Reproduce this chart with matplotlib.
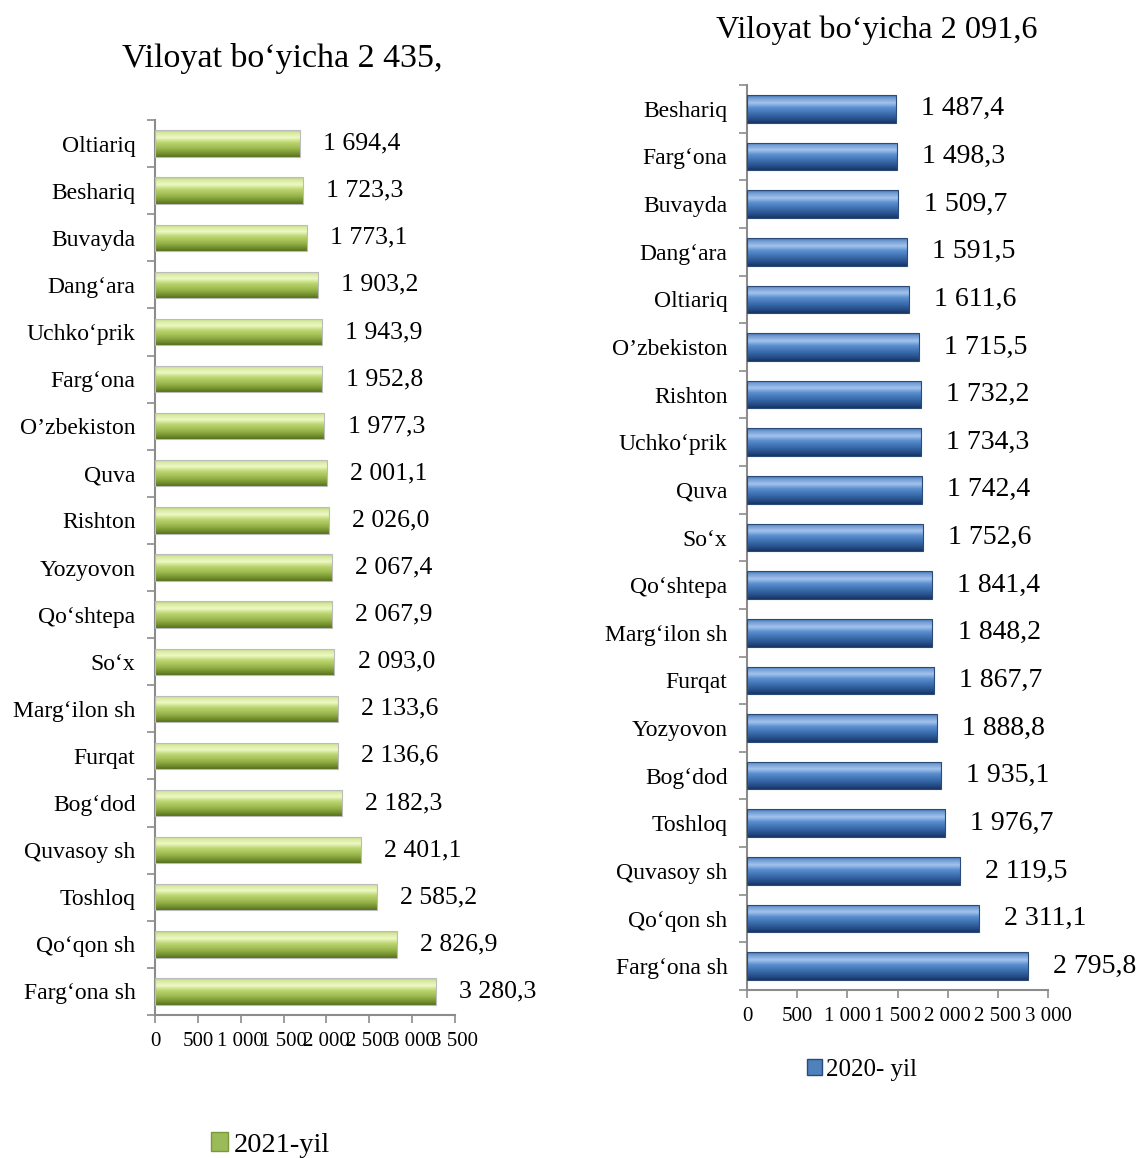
import numpy as np
import matplotlib
matplotlib.use("Agg")
import matplotlib.pyplot as plt
from matplotlib.colors import LinearSegmentedColormap
from matplotlib.patches import Patch

plt.rcParams['font.family'] = ['Liberation Serif', 'DejaVu Serif']

# ---- Data ----
cats_2021 = ["Oltiariq", "Beshariq", "Buvayda", "Dang‘ara", "Uchko‘prik", "Farg‘ona",
             "O’zbekiston", "Quva", "Rishton", "Yozyovon", "Qo‘shtepa", "So‘x",
             "Marg‘ilon sh", "Furqat", "Bog‘dod", "Quvasoy sh", "Toshloq",
             "Qo‘qon sh", "Farg‘ona sh"]
vals_2021 = [1694.4, 1723.3, 1773.1, 1903.2, 1943.9, 1952.8, 1977.3, 2001.1, 2026.0,
             2067.4, 2067.9, 2093.0, 2133.6, 2136.6, 2182.3, 2401.1, 2585.2, 2826.9, 3280.3]

cats_2020 = ["Beshariq", "Farg‘ona", "Buvayda", "Dang‘ara", "Oltiariq", "O’zbekiston",
             "Rishton", "Uchko‘prik", "Quva", "So‘x", "Qo‘shtepa", "Marg‘ilon sh",
             "Furqat", "Yozyovon", "Bog‘dod", "Toshloq", "Quvasoy sh", "Qo‘qon sh",
             "Farg‘ona sh"]
vals_2020 = [1487.4, 1498.3, 1509.7, 1591.5, 1611.6, 1715.5, 1732.2, 1734.3, 1742.4,
             1752.6, 1841.4, 1848.2, 1867.7, 1888.8, 1935.1, 1976.7, 2119.5, 2311.1, 2795.8]

title_2021 = "Viloyat bo‘yicha 2 435,"
title_2020 = "Viloyat bo‘yicha 2 091,6"
legend_2021 = "2021-yil"
legend_2020 = "2020- yil"
ticks_2021 = [0, 500, 1000, 1500, 2000, 2500, 3000, 3500]
ticks_2020 = [0, 500, 1000, 1500, 2000, 2500, 3000]


def fmt(v, dec=1):
    s = f"{v:,.{dec}f}"
    return s.replace(",", " ").replace(".", ",")


green_cmap = LinearSegmentedColormap.from_list(
    "g", [(0.0, "#b4c884"), (0.1, "#d6e99c"), (0.28, "#eef8c6"), (0.45, "#bdd772"),
          (0.7, "#98b54a"), (0.88, "#728f2e"), (1.0, "#55701c")])
blue_cmap = LinearSegmentedColormap.from_list(
    "b", [(0.0, "#3f6fae"), (0.1, "#6f9ad2"), (0.28, "#a3c3ec"), (0.45, "#5a8fd0"),
          (0.7, "#3768a8"), (0.88, "#244b85"), (1.0, "#173462")])

AX = "#8c8c8c"


def draw_panel(ax, cats, vals, cmap, xmax, ticks, val_fs, cat_fs, bar_h, offset, edge):
    n = len(cats)
    ypos = np.arange(n)
    bars = ax.barh(ypos, vals, height=bar_h, color="none", edgecolor=edge, linewidth=0.8, zorder=3)
    grad = np.linspace(0, 1, 256).reshape(-1, 1)
    for b in bars:
        x0, y0 = b.get_x(), b.get_y()
        w, h = b.get_width(), b.get_height()
        im = ax.imshow(grad, cmap=cmap, aspect="auto", origin="lower",
                       extent=[x0, x0 + w, y0, y0 + h], zorder=2, interpolation="bilinear")
        im.set_clip_path(b)
    for y, v in zip(ypos, vals):
        ax.text(v + offset, y, fmt(v), va="center", ha="left", fontsize=val_fs, color="black")
    ax.set_ylim(n - 0.5, -0.5)
    ax.set_xlim(0, xmax)
    ax.set_yticks(ypos)
    ax.set_yticklabels(cats, fontsize=cat_fs)
    ax.set_yticks(np.arange(n + 1) - 0.5, minor=True)
    ax.tick_params(axis="y", which="major", length=0, pad=14)
    ax.tick_params(axis="y", which="minor", length=6, width=1.2, color=AX, direction="out")
    ax.set_xticks(ticks)
    ax.set_xticklabels([fmt(t, 0) for t in ticks], fontsize=15)
    ax.tick_params(axis="x", length=6, width=1.2, color=AX, direction="out", pad=6)
    for s in ["top", "right"]:
        ax.spines[s].set_visible(False)
    for s in ["left", "bottom"]:
        ax.spines[s].set_color(AX)
        ax.spines[s].set_linewidth(1.5)


fig = plt.figure(figsize=(11.39, 11.58), dpi=100)

W, H = 1139, 1158
axL = fig.add_axes([155 / W, 1 - 1015 / H, 300 / W, 895 / H])
axR = fig.add_axes([747 / W, 1 - 990 / H, 301 / W, 905 / H])

draw_panel(axL, cats_2021, vals_2021, green_cmap, 3500, ticks_2021, 18.5, 17, 0.56, 270, "#bcbcbc")
draw_panel(axR, cats_2020, vals_2020, blue_cmap, 3000, ticks_2020, 20, 17, 0.58, 250, "#2a4a78")

fig.text(282 / W, 1 - 58 / H, title_2021, ha="center", va="center", fontsize=24.5)
fig.text(877 / W, 1 - 30 / H, title_2020, ha="center", va="center", fontsize=23.3)

hL = [Patch(facecolor="#9bbb59", edgecolor="#7a9a3a")]
hR = [Patch(facecolor="#4f81bd", edgecolor="#2a4a78")]
fig.legend(hL, [legend_2021], loc="center", bbox_to_anchor=(270 / W, 1 - 1145 / H),
           frameon=False, fontsize=20.5, handlelength=0.6, handleheight=0.6, handletextpad=0.2)
fig.legend(hR, [legend_2020], loc="center", bbox_to_anchor=(862 / W, 1 - 1070 / H),
           frameon=False, fontsize=18, handlelength=0.6, handleheight=0.6, handletextpad=0.2)

fig.savefig("out.png", dpi=100)
